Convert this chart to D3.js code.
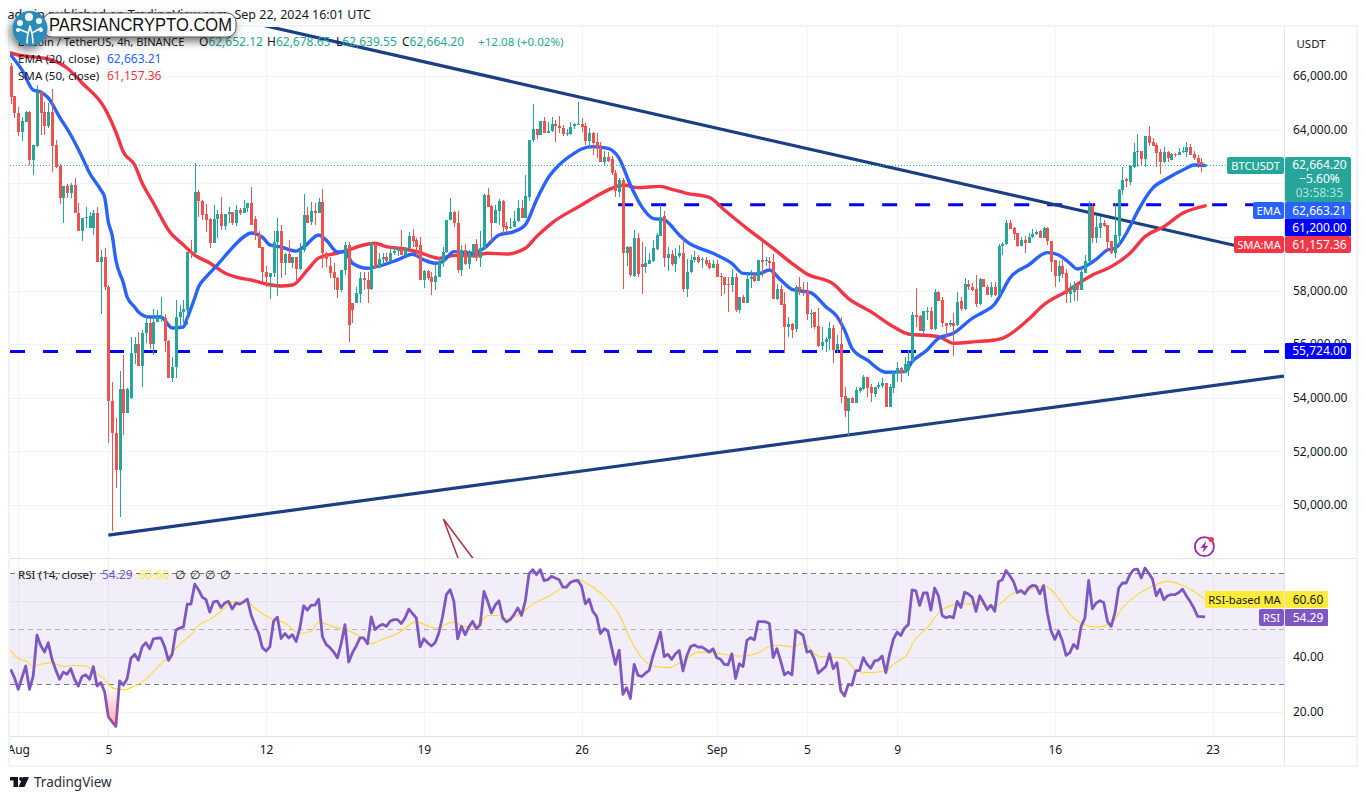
<!DOCTYPE html>
<html>
<head>
<meta charset="utf-8">
<title>BTCUSDT</title>
<script src="https://cdn.jsdelivr.net/npm/d3@7"></script>
<style>
html,body{margin:0;padding:0;background:#fff;}
svg{display:block;}
text{font-family:"Noto Sans","Open Sans",sans-serif;font-size:12px;fill:#131722;}
</style>
</head>
<body>
<div id="chart"></div>
<script>
// ---- candle data: first entry is bar index -2 (bars are 4h, index 0 = Aug 1 00:00)
const firstBar = -2;
const opens = [66373,65255,64633,63925,64297,64670,62868,63390,65391,64645,
64150,64670,63427,62644,61463,61898,61650,61923,60879,60233,
60730,60320,60345,60879,59077,59238,58144,53893,52675,51308,
54316,53446,53980,55658,56007,55198,56405,56777,56007,56840,
56964,56964,56100,54726,55136,57026,57187,57275,59425,59388,
61662,61351,60854,60655,59785,60655,60854,60419,60854,60916,
60506,61003,60904,61066,61252,60668,60108,59611,58704,58493,
58642,59823,60220,59040,59363,59015,59263,58803,59512,60817,
60544,60966,60904,61289,59412,58915,58704,58456,58020,58766,
59698,57520,57523,57870,58455,58393,58057,59698,58828,59164,
59263,59114,59412,59487,59536,59325,59574,60034,59885,59698,
58393,58728,58493,58331,58517,59077,59425,60630,60941,60506,
58766,59512,58990,59387,59735,59201,59574,61562,61165,60506,
60978,61339,60407,60320,60357,60593,61090,60717,61500,63613,
64024,63800,64322,63887,63961,64210,64148,64049,63850,63837,
64148,64198,64210,64136,63589,63862,63551,63365,62806,62967,
62893,62395,61687,62122,59387,59636,58555,59947,58990,58890,
58990,59114,59536,60034,60779,59225,59362,58990,59287,59387,
58057,58678,59138,59250,59138,59138,59014,58827,58989,58541,
58491,58243,58205,58491,57273,57770,57547,58417,58541,58367,
59138,59100,59100,59063,57683,58044,57497,56652,56751,56553,
58119,58019,57982,57149,57186,56677,55943,56068,56192,56590,
55781,56005,54066,53507,54004,53818,54265,54315,54787,54414,
54141,54414,54439,54563,53668,54352,54911,55098,54936,55036,
55384,57087,57050,56503,57236,57248,56565,57957,57646,56801,
56702,56776,56714,57621,57298,58243,58144,58044,57497,58417,
58144,57832,58119,57832,59660,59723,60506,60344,60133,59660,
59884,59785,59984,60108,60220,59947,60319,59860,59138,58554,
58915,58641,57870,57958,58206,58020,58666,59101,61152,59946,
60320,60531,60444,59847,59387,60034,61749,62159,62060,62594,
63153,63215,62905,63762,63526,63414,63153,62805,63178,62868,
63091,63054,63153,63178,63340,63079,62955,62780,62652.12];
const highs = [66500,65255,64857,64484,64708,64700,63427,65665,65478,65043,
64981,65503,63614,62700,61898,61973,61998,62184,61277,60693,
61103,60941,61003,61128,59512,59574,58200,54602,53235,55012,
55597,54353,56280,56280,56466,56528,57088,56964,57300,57275,
57747,57125,56150,55535,57648,57461,57648,59450,59885,62744,
61749,61376,61227,60700,61190,61003,61476,60854,61128,60941,
61190,61066,61377,61252,61849,60792,60233,59611,58915,58642,
60233,60692,60444,59388,59885,59263,59263,59785,61600,61128,
61314,61252,61438,61774,59450,59263,59015,58517,58766,59822,
59822,57520,58144,58704,58704,58704,59822,59822,59387,59387,
59387,59636,59636,59636,60257,59574,60195,60283,59947,60009,
58766,58766,58704,58952,59200,59636,60630,61438,60966,60978,
59698,59735,59512,59735,59910,60232,61600,61811,61190,61190,
61401,61376,60568,60692,60978,61376,61376,62308,63613,64956,
64024,64322,64484,64297,64459,64359,64508,64173,64011,64297,
64260,65043,64422,64235,64049,63924,63862,63551,63216,63179,
63017,62495,62184,62184,59660,59660,60257,60158,59822,59611,
59387,59884,60133,61190,60978,59636,59512,59573,59700,59947,
59163,59324,59486,59324,59262,59237,59138,59138,59138,58640,
58491,58491,58790,58640,57770,57832,58640,58765,58702,59138,
59797,59237,59262,59362,58243,58205,57957,57025,56776,58205,
58516,58330,58330,57298,57211,57335,56652,56279,56838,56714,
56341,57000,54414,54004,54041,54414,54414,54849,54787,54514,
54414,54601,54725,54563,54514,54974,55347,55136,55508,55781,
57211,58082,57087,57236,57373,57397,58044,57982,57746,56801,
56900,57149,57957,57770,58454,58392,58268,58578,58454,58417,
58200,58330,58330,59735,59823,60630,60630,60382,60158,60009,
60034,60158,60282,60257,60257,60357,60382,59860,59138,59114,
59138,58790,58268,58368,58330,58890,59325,61351,61251,60780,
60780,60630,60444,59847,61251,61774,62594,62184,62681,63489,
63837,63215,63762,64135,63675,63489,63265,63340,63215,63141,
63141,63302,63365,63551,63452,63216,63054,62930,62678.65];
const lows = [64955,64420,63763,63589,64297,62681,62309,63365,63800,63800,
64050,62433,62557,61227,60531,61438,61438,60879,60233,59847,
60320,60320,60071,59077,57125,58020,52328,49045,50650,49568,
52613,53421,53943,55260,55198,54415,56030,55808,55597,56840,
56840,55720,54726,54602,54726,56653,56777,56715,59200,59388,
60755,60630,60196,59574,59760,59947,60258,60258,60531,60444,
60419,60817,60879,60916,60444,59885,59574,58331,58144,57672,
58517,57797,58456,58580,59015,58828,58393,58766,59450,60506,
60444,60444,60879,58828,58865,58456,58020,57709,57958,58580,
56078,56800,57523,57523,58020,57523,58020,58828,58828,58952,
59077,59077,59325,59300,59325,59263,59536,59636,59263,58393,
58082,58393,57833,58020,58517,58890,59387,60630,60382,58666,
58542,58952,58803,59201,59114,58865,59512,61127,59760,60506,
60444,60133,60133,60295,60357,60568,60717,60717,61351,63551,
63638,63800,63887,63887,63924,63551,63862,63763,63763,63800,
64011,64173,63924,63427,63266,63054,62930,62806,62644,62806,
62308,61500,61500,58045,58915,58517,58517,58493,57871,58667,
58990,59077,59511,60034,58890,58741,58915,58703,59200,57958,
57746,58640,59075,59038,58852,58914,58790,58827,58516,57795,
57870,57211,57957,57211,57149,57522,57547,58080,58330,58367,
58516,58914,58790,57683,57646,57460,55657,56254,56217,56465,
57833,57795,56900,56589,56552,55881,55782,55695,55782,55309,
55657,53793,53271,52575,53818,53818,54191,54290,54041,53855,
54017,54315,54352,53668,53668,54191,54601,54601,54936,54825,
55309,56652,56503,56378,56900,56527,56527,57621,56652,56217,
56652,55558,56677,57248,57273,58019,57994,57373,57460,58119,
57832,57770,57795,57832,59325,59698,60282,59884,59636,59660,
59387,59760,59947,60071,59947,59947,59698,58703,58144,58330,
58455,57547,57523,57622,57622,58020,58641,59014,59760,59760,
59946,60357,59449,59362,59201,59698,61562,61848,61935,62557,
62619,62644,62619,63390,63390,62594,62345,62768,62805,62868,
62992,63054,63116,62992,63054,62868,62557,62432,62639.55];
const closes = [65217,64608,63925,64322,64670,62868,63427,65391,64608,64150,
64670,63402,62619,61463,61898,61650,61936,60879,60233,60693,
60740,60780,60904,59077,59238,58144,53893,52675,51308,54316,
53421,54316,55658,56007,55198,56405,56777,56007,56840,57026,
56990,56100,54726,55136,57026,57187,57312,59425,59388,61662,
61351,60817,60630,59785,60655,60854,60419,60854,60916,60506,
61003,60904,61066,61252,60444,60108,59574,58704,58493,58642,
59823,60220,59040,59363,59015,59263,58803,59512,60817,60506,
60966,60904,61289,59412,59163,58667,58456,58020,58766,59698,
56700,57270,57895,58455,58393,58057,59760,58828,59164,59263,
59114,59412,59487,59536,59325,59574,60034,59860,59636,58393,
58728,58455,58331,58542,59077,59425,60630,60941,60506,58766,
59512,58990,59387,59735,59201,59574,61562,61127,60506,61003,
61339,60382,60295,60357,60593,61090,60717,61525,63613,64024,
63800,64322,63887,63961,64210,64148,64049,63825,63875,64111,
64198,64223,64111,63589,63862,63514,63340,62806,62967,62843,
62371,61712,62122,59387,59636,58580,59947,58604,58890,59015,
59139,59574,60071,60754,59225,59362,58990,59287,59411,58057,
58678,59138,59250,59075,59163,58989,58827,58989,58516,58491,
58205,58218,58491,57273,57770,57547,58429,58516,58367,59138,
59075,59138,59038,57683,58044,57460,56652,56751,56528,58119,
58019,57982,57124,57174,56652,55943,56068,56192,56590,55781,
56005,54041,53507,54004,53818,54290,54352,54787,54352,54166,
54414,54476,54563,53668,54390,54974,55098,54936,55260,55384,
57087,57025,56503,57236,57248,56553,57957,57621,56776,56677,
56801,56689,57584,57298,58243,58119,58019,57497,58417,58119,
57832,58119,57832,59660,59735,60506,60294,60108,59660,59884,
59760,60009,60108,60195,59947,60319,59847,59076,58554,58915,
58616,57858,57970,58206,58020,58678,59101,61152,59946,60357,
60531,60406,59797,59387,60071,61749,62122,62097,62644,63153,
63215,62905,63762,63489,63390,63116,62805,63178,62930,63091,
63054,63153,63203,63340,63054,62955,62743,62664,62664.20];

// ---- EMA(20)
const emaBars = [-2,1,4,6,8,11,14,17,19,22,23,24,25,26,28,29,31,32,35,38,41,44,45,47,48,50,53,56,60,62,65,67,70,74,76,80,82,85,87,89,93,97,101,105,108,111,113,116,121,124,128,132,135,138,141,144,148,150,153,157,160,163,166,169,172,176,178,185,190,193,197,200,203,206,211,215,218,220,222,226,231,236,238,242,245,249,254,257,260,261,264,269,274,277,280,282,284,287,290,292,296,298,302,306,311,313,316];
const emaVals = [66783,66224,65478,65403,65180,64470,63800,62980,62380,61750,61487,60550,60070,59136,58280,57757,57384,57200,57010,57010,56600,56640,56970,57720,58130,58500,58950,59435,59995,60145,59995,59700,59622,59470,59622,60070,59880,59435,59450,59015,58828,58950,59140,59350,59140,59015,59077,59450,59387,59574,60070,60195,60444,61376,62184,62680,63116,63278,63365,63300,62930,61935,61128,60692,60630,60070,59820,59386,59013,58640,58616,58765,58392,58044,57920,57397,57025,56527,55844,55409,54949,54973,55347,55781,56217,56403,56962,57200,57498,57709,58455,58952,59412,59325,59014,58803,58890,59163,59511,59573,60382,60941,61811,62184,62557,62681,62663.21];

// ---- SMA(50)
const smaBars = [-2,0,8,13,17,23,26,28,31,33,36,38,40,44,47,51,55,59,62,66,70,73,77,80,85,88,91,95,98,103,107,110,112,116,121,125,130,135,138,142,150,154,158,161,165,171,174,178,184,188,194,201,206,210,217,221,227,233,237,245,249,255,260,262,269,273,279,286,291,296,300,305,310,316];
const smaVals = [66858,66783,66634,66298,65739,64806,63911,63165,62680,62009,61263,60741,60256,59696,59323,59025,58652,58466,58391,58242,58167,58205,58764,59212,59398,59512,59660,59760,59636,59549,59412,59263,59200,59300,59300,59387,59362,59574,60009,60506,61190,61525,61811,61935,61836,61885,61773,61624,61475,61002,60319,59573,59013,58616,58243,57708,57211,56652,56378,56279,56030,56092,56154,56216,56926,57460,57958,58579,58890,59387,60009,60381,60879,61157.36];

// ---- RSI(14), one value per bar, first entry is bar index -2
const rsiVals = [35.4,32.4,28.2,32.4,36.6,28.2,33,47.7,44,41.6,
45,39,35.2,31.8,34.4,33.6,35.6,31.8,29.4,32.8,
33.4,31.8,36.4,29.4,30.6,27.3,18.3,16.5,14.8,31.2,
29.7,32,39.3,40.8,38.7,43.5,45,42.8,46.4,46.6,
46.7,43.5,38.6,40.8,49.5,50.3,50.7,58.9,58.9,66.1,
64.1,61.4,60.5,56,59.7,60,57.7,59.3,59.9,57.1,
59.3,58.9,59.7,60.7,55.1,51.5,48.5,43.2,42,43.5,
52.7,54.2,46.5,48.3,46.7,47.9,45.4,50.3,58.3,56.7,
58.5,58.5,60.7,47.1,44.4,43.2,41.6,39.5,44.7,51.5,
38,41.4,43.8,46.7,46.7,44.6,54.3,49.7,50.9,51.6,
50.9,52.7,53.3,53.3,51.9,53.9,57.1,55.5,53.9,43.5,
46.4,45,43.8,45,48.5,54.5,62.3,64.1,59.9,46.4,
50.9,47.9,50.7,52.7,50,51.5,63.5,59.9,55.7,58.5,
60.1,53.9,52.5,53.3,55.1,57.5,54.8,59.9,69.8,71.3,
69.5,71.3,67.4,67.7,68.9,68.3,67.7,65,65,66.7,
67.3,67.4,65.3,59,60.7,56.3,54.5,48.3,50,49.2,
43.2,37.2,42.3,26.4,28.8,24.9,37.2,33.3,32.8,34,
35,40.2,44.4,48.8,40,40.8,39,41,42.2,34.8,
40.2,43.5,44.2,43.4,43.5,42.6,41.6,42.8,39.6,39,
37.2,37,41,32.1,37.4,36.4,45.8,46.8,46,52.6,
52.6,52.5,51.9,39.6,42.8,38.4,33.4,34.4,33.4,49.2,
48.6,47.6,41.6,42,39,34,35.2,36.4,41,35.6,
37.8,27.6,25.8,30,29.7,34.8,35,39.6,37.2,35.8,
38.4,38.7,40.2,34.2,40.8,46.2,48.8,47.6,50.3,51.5,
64,63.7,58.4,62.9,62.9,56.7,64.7,61.9,54.8,54,
54.5,54,59.9,57.7,63.2,62.5,61.4,56.3,61.9,59.5,
56.9,58.5,56.3,67,67.7,71,69.1,67,63.1,63.8,
62.6,64.7,65.6,65.5,62.6,65.6,55.7,49.2,46.2,49.2,
45.6,40.4,41.4,44.4,42.9,50.9,53.9,67.4,57.2,59.3,
60.1,59.5,52.7,50.9,55.7,64.7,66.5,66.5,69.5,71.3,
71.5,68.3,71.9,70,67.9,61.9,64.3,60.5,61.9,62.3,
62.3,63.1,64.3,61.9,59.9,57.5,54.5,54.4,54.29];

// ---- RSI-based MA
const rsiMaBars = [-2,0,2,4,6,9,12,15,18,20,23,25,28,31,34,37,40,43,46,48,51,55,57,61,63,67,71,75,78,80,84,87,91,94,97,101,106,111,116,119,123,125,128,130,134,137,142,145,149,151,155,160,163,166,169,173,177,181,185,190,193,196,200,203,206,209,213,220,223,226,231,233,237,238,242,246,251,256,260,265,268,273,277,280,284,287,291,294,298,301,306,310,313,316];
const rsiMaVals = [42.2,39.2,38.4,36.6,37.2,37.8,36.4,36.8,36.6,34.8,31.8,28.8,28,29.4,31.8,36,39.9,44.4,47.9,51.2,53.3,57.5,59.7,59.7,57.5,53.9,52.1,48.3,49.1,52.4,50.7,49.7,47.3,44.7,46.2,48.3,52.5,50.3,52.4,50.7,52.1,54.8,54.8,53.7,55.7,58.9,62.3,64.9,67.9,66.7,62.9,55.1,46.2,39.6,36.6,36,38.4,41.6,41.4,40.4,40.2,40.8,43.5,44,43.5,44.6,40.2,39.3,35,34.2,34.8,37.2,41.4,44.4,50.3,56.9,59,58.9,58.1,62.9,63.5,65.5,61,55.1,51.5,50.6,52.1,57.5,62.3,64.7,67.1,65.6,63.5,60.6];

// ---- drawn levels and trend lines
const levelPrices = [61200, 55724];
const levelStartBars = [160, -2];
const upperTrendBars = [46, 324];
const upperTrendPrices = [68500, 59678];
const lowerTrendBars = [24, 337];
const lowerTrendPrices = [48879, 54810];
const arrowBars = [117.2, 113.2, 121.2];
const arrowPrices = [47984, 49476, 47984];

// ---- axes
const priceTicks = [66000,64000,62000,60000,58000,56000,54000,52000,50000];
const priceTickLabels = [66000,64000,58000,56000,54000,52000,50000];
const rsiTicks = [60,40,20];
const rsiTickLabels = [40,20];
const rsiLevels = [70,50,30];
const timeBars = [0,24,66,108,150,186,210,234,276,318];
const timeLabels = ["Aug","5","12","19","26","Sep","5","9","16","23"];

const W=1366,H=800;
const paneL=10,paneR=1284,mainT=27,mainB=559,rsiB=737,timeB=765,outerR=1356;

const x=d3.scaleLinear().domain([0,318]).range([18.2,1212.6]);
const y=d3.scaleLinear().domain([66000,50000]).range([76,505]);
const yR=d3.scaleLinear().domain([70,30]).range([573.3,684.3]);

const svg=d3.select("#chart").append("svg").attr("width",W).attr("height",H);
const defs=svg.append("defs");
defs.append("clipPath").attr("id","cMain").append("rect").attr("x",paneL).attr("y",mainT).attr("width",paneR-paneL).attr("height",mainB-mainT);
defs.append("clipPath").attr("id","cRsi").append("rect").attr("x",paneL).attr("y",mainB).attr("width",paneR-paneL).attr("height",rsiB-mainB);
defs.append("clipPath").attr("id","cBelow").append("rect").attr("x",paneL).attr("y",yR(30)).attr("width",paneR-paneL).attr("height",rsiB-yR(30));
defs.append("clipPath").attr("id","cTime").append("rect").attr("x",paneL).attr("y",rsiB).attr("width",outerR-paneL).attr("height",timeB-rsiB);
const grad=defs.append("linearGradient").attr("id","gOS").attr("gradientUnits","userSpaceOnUse").attr("x1",0).attr("x2",0).attr("y1",yR(30)).attr("y2",yR(14));
grad.append("stop").attr("offset",0).attr("stop-color","#f23645").attr("stop-opacity",0);
grad.append("stop").attr("offset",1).attr("stop-color","#f23645").attr("stop-opacity",0.45);
const sh=defs.append("filter").attr("id","shadow").attr("x","-20%").attr("y","-60%").attr("width","140%").attr("height","240%");
sh.append("feDropShadow").attr("dx",-2).attr("dy",4).attr("stdDeviation",4).attr("flood-color","#000").attr("flood-opacity",0.55);

const gridC="#f0f3fa",frameC="#e0e3eb";
const bars=d3.range(opens.length).map(i=>({b:firstBar+i,o:opens[i],h:highs[i],l:lows[i],c:closes[i]}));

// grids
const grid=svg.append("g");
grid.selectAll(".gh").data(priceTicks).join("line")
  .attr("x1",paneL).attr("x2",paneR).attr("y1",d=>Math.round(y(d))+.5).attr("y2",d=>Math.round(y(d))+.5).attr("stroke",gridC);
grid.selectAll(".gv").data(timeBars).join("line").attr("class","gv")
  .attr("x1",d=>Math.round(x(d))+.5).attr("x2",d=>Math.round(x(d))+.5).attr("y1",mainT).attr("y2",rsiB).attr("stroke",gridC);

// main pane
const main=svg.append("g").attr("clip-path","url(#cMain)");
main.selectAll(".lvl").data(levelPrices).join("line").attr("class","lvl")
  .attr("x1",(d,i)=>Math.max(paneL,i===1?paneL:x(levelStartBars[i])-1)).attr("x2",paneR)
  .attr("y1",d=>y(d)).attr("y2",d=>y(d))
  .attr("stroke","#0000ff").attr("stroke-width",3).attr("stroke-dasharray","15 18");
const lp=d3.line().x(d=>x(d[0])).y(d=>y(d[1]));
const ls=d3.line().x(d=>x(d[0])).y(d=>y(d[1])).curve(d3.curveMonotoneX);
main.append("path").attr("d",lp(d3.zip(upperTrendBars,upperTrendPrices))).attr("fill","none").attr("stroke","#1b3f83").attr("stroke-width",3.2);
main.append("path").attr("d",lp(d3.zip(lowerTrendBars,lowerTrendPrices))).attr("fill","none").attr("stroke","#1b3f83").attr("stroke-width",3.2);
main.append("path").attr("d",lp(d3.zip(arrowBars,arrowPrices))).attr("fill","none").attr("stroke","#b03045").attr("stroke-width",1.5);
main.append("path").attr("d",ls(d3.zip(smaBars,smaVals))).attr("fill","none").attr("stroke","#f23645").attr("stroke-width",3.4).attr("stroke-linejoin","round").attr("stroke-linecap","round");
main.append("path").attr("d",ls(d3.zip(emaBars,emaVals))).attr("fill","none").attr("stroke","#2962ff").attr("stroke-width",3.4).attr("stroke-linejoin","round").attr("stroke-linecap","round");

const up="#26a69a",dn="#ef5350";
const col=d=>d.c>=d.o?up:dn;
const cg=main.append("g").attr("shape-rendering","crispEdges");
cg.selectAll(".w").data(bars).join("rect").attr("class","w")
  .attr("x",d=>Math.round(x(d.b))).attr("width",1)
  .attr("y",d=>y(d.h)).attr("height",d=>Math.max(1,y(d.l)-y(d.h))).attr("fill",col);
cg.selectAll(".b").data(bars).join("rect").attr("class","b")
  .attr("x",d=>Math.round(x(d.b))-1).attr("width",3)
  .attr("y",d=>y(Math.max(d.o,d.c))).attr("height",d=>Math.max(1,Math.abs(y(d.o)-y(d.c)))).attr("fill",col);

// current price line
const lastClose=closes[closes.length-1];
svg.append("line").attr("x1",paneL).attr("x2",1227).attr("y1",y(lastClose)).attr("y2",y(lastClose))
  .attr("stroke",up).attr("stroke-width",1).attr("stroke-dasharray","1 2");

// RSI pane
const rsiG=svg.append("g").attr("clip-path","url(#cRsi)");
rsiG.append("rect").attr("x",paneL).attr("width",paneR-paneL).attr("y",yR(70)).attr("height",yR(30)-yR(70)).attr("fill","#7e57c2").attr("fill-opacity",0.1);
rsiG.selectAll(".rg").data(rsiTicks).join("line").attr("class","rg").attr("x1",paneL).attr("x2",paneR).attr("y1",d=>Math.round(yR(d))+.5).attr("y2",d=>Math.round(yR(d))+.5).attr("stroke",d=>d===20?gridC:"#e4e2ee");
rsiG.selectAll(".rl").data(rsiLevels).join("line").attr("class","rl").attr("x1",paneL).attr("x2",paneR).attr("y1",d=>Math.round(yR(d))+.5).attr("y2",d=>Math.round(yR(d))+.5)
  .attr("stroke","#787b86").attr("stroke-opacity",d=>d===50?0.55:1).attr("stroke-dasharray","5 4");
const rsiPts=rsiVals.map((v,i)=>[firstBar+i,v]);
const lr=d3.line().x(d=>x(d[0])).y(d=>yR(d[1]));
svg.append("path").attr("clip-path","url(#cBelow)")
  .attr("d",d3.area().x(d=>x(d[0])).y0(yR(30)).y1(d=>yR(d[1]))(rsiPts)).attr("fill","url(#gOS)");
rsiG.append("path").attr("d",lr.curve(d3.curveMonotoneX)(d3.zip(rsiMaBars,rsiMaVals))).attr("fill","none").attr("stroke","#fdd835").attr("stroke-width",1.1);
rsiG.append("path").attr("d",lr.curve(d3.curveLinear)(rsiPts)).attr("fill","none").attr("stroke","#7e57c2").attr("stroke-width",2.8).attr("stroke-linejoin","round");

// frame lines
const frame=svg.append("g").attr("fill",frameC);
frame.append("rect").attr("x",paneL-2).attr("y",mainT-2).attr("width",outerR-paneL+4).attr("height",2).attr("fill","#f0f3fa");
frame.append("rect").attr("x",paneL-2).attr("y",mainT-2).attr("width",2).attr("height",timeB-mainT+4).attr("fill","#f0f3fa");
frame.append("rect").attr("x",outerR).attr("y",mainT-2).attr("width",2).attr("height",timeB-mainT+4).attr("fill","#f0f3fa");
frame.append("rect").attr("x",paneL-2).attr("y",timeB).attr("width",outerR-paneL+4).attr("height",2).attr("fill","#f0f3fa");
frame.append("rect").attr("x",paneL).attr("y",mainB-1).attr("width",outerR-paneL).attr("height",1);
frame.append("rect").attr("x",paneL).attr("y",rsiB-1).attr("width",outerR-paneL).attr("height",1);
frame.append("rect").attr("x",paneR).attr("y",mainT).attr("width",1).attr("height",timeB-mainT);

// axes
const styleAxis=g=>{g.select(".domain").remove();g.selectAll("text").style("font-size","12px").style("fill","#131722");};
svg.append("g").attr("transform","translate(1293,0)")
  .call(d3.axisRight(y).tickValues(priceTickLabels).tickSize(0).tickPadding(0).tickFormat(d3.format(",.2f"))).call(styleAxis);
svg.append("g").attr("transform","translate(1293,0)")
  .call(d3.axisRight(yR).tickValues(rsiTickLabels).tickSize(0).tickPadding(0).tickFormat(d3.format(".2f"))).call(styleAxis);
svg.append("g").attr("clip-path","url(#cTime)").append("g").attr("transform",`translate(0,${rsiB})`)
  .call(d3.axisBottom(x).tickValues(timeBars).tickSize(0).tickPadding(8).tickFormat((d,i)=>timeLabels[i])).call(styleAxis);
svg.append("text").attr("x",1311).attr("y",48).attr("text-anchor","middle").style("font-size","11.5px").text("USDT");

// axis tags
function tag(xL,xR,yT,yB,fill,label,tc,r,fs,cx){
  svg.append("rect").attr("x",xL).attr("y",yT).attr("width",xR-xL).attr("height",yB-yT).attr("fill",fill).attr("rx",r||0);
  if(label) svg.append("text").attr("x",cx||(xL+xR)/2).attr("y",(yT+yB)/2+4.2).attr("text-anchor","middle").style("fill",tc||"#fff").style("font-size",(fs||12)+"px").text(label);
}
tag(1227,1284,157,174,up,"BTCUSDT","#fff",2,11.2);
tag(1285,1351,157,202,up,null,null,2);
svg.append("text").attr("x",1319.5).attr("y",169).attr("text-anchor","middle").style("fill","#fff").text("62,664.20");
svg.append("text").attr("x",1319.5).attr("y",183).attr("text-anchor","middle").style("fill","#fff").text("−5.60%");
svg.append("text").attr("x",1319.5).attr("y",197).attr("text-anchor","middle").style("fill","#fff").style("opacity",.65).text("03:58:35");
tag(1253,1284,202,219,"#2962ff","EMA","#fff",2,11.5);
tag(1285,1351,202,219,"#2962ff","62,663.21","#fff",1,12,1319.5);
tag(1285,1351,219,236,"#0000ff","61,200.00","#fff",0,12,1319.5);
tag(1234,1284,236,253,"#f23645","SMA:MA","#fff",2,11.2);
tag(1285,1351,236,253,"#f23645","61,157.36","#fff",2,12,1319.5);
tag(1285,1351,343,359,"#0000ff","55,724.00","#fff",1,12,1319.5);
tag(1205,1284,591,608,"#ffeb3b","RSI-based MA","#131722",1,11.2);
tag(1285,1328,591,608,"#ffeb3b","60.60","#131722",1,12,1308);
tag(1259,1284,609,626,"#7e57c2","RSI","#fff",2,11.5);
tag(1285,1328,609,626,"#7e57c2","54.29","#fff",1,12,1308);

// legends
const txt=(s,px,py,c,fs)=>svg.append("text").attr("x",px).attr("y",py).style("fill",c||"#131722").style("font-size",(fs||12)+"px").text(s);
svg.append("text").attr("x",371).attr("y",19).attr("text-anchor","end").style("font-size","12.5px").text("admin published on TradingView.com, Sep 22, 2024 16:01 UTC");
txt("Bitcoin / TetherUS, 4h, BINANCE",18,46,null,11.1);
[["O",199,"62,652.12"],["H",267,"62,678.65"],["L",336,"62,639.55"],["C",402,"62,664.20"]].forEach(([k,px,v])=>{
  const t=svg.append("text").attr("x",px).attr("y",46);
  t.append("tspan").text(k); t.append("tspan").style("fill",up).text(v);
});
txt("+12.08 (+0.02%)",478,46,up,11.6);
txt("EMA (20, close)",18,63,null,11.6); txt("62,663.21",107,63,"#2962ff");
txt("SMA (50, close)",18,80,null,11.6); txt("61,157.36",107,80,"#f23645");
txt("RSI (14, close)",18,579,null,11.6); txt("54.29",102,579,"#7e57c2"); txt("60.60",139,579,"#ffeb3b");
[175,190,205,220].forEach(px=>txt("∅",px,579));

// lightning badge
const ic=svg.append("g").attr("transform","translate(1204.4,546.7)");
ic.append("circle").attr("r",9.5).attr("fill","#fff").attr("stroke","#9c27b0").attr("stroke-width",1.8);
ic.append("path").attr("d","M2,-6 L-4,1 L-0.5,1 L-2,6 L4,-1 L0.5,-1 Z").attr("fill","#9c27b0");
svg.append("circle").attr("cx",1211.3).attr("cy",539.5).attr("r",2.6).attr("fill","#f23645");

// TradingView mark
const tv=svg.append("g").attr("fill","#131722");
tv.append("rect").attr("x",10).attr("y",777).attr("width",8).attr("height",3.5);
tv.append("rect").attr("x",13.5).attr("y",777).attr("width",4.5).attr("height",10);
tv.append("circle").attr("cx",21).attr("cy",779).attr("r",1.9);
tv.append("path").attr("d","M23,777 H29 L24.5,787 H18.5 Z");
svg.append("text").attr("x",34).attr("y",787).style("font-size","13.5px").style("fill","#2a2e39").text("TradingView");

// site badge
const bd=svg.append("g");
bd.append("rect").attr("x",43).attr("y",13).attr("width",193).attr("height",24).attr("rx",9).attr("fill","#fff").attr("stroke","#555").attr("stroke-width",1).attr("filter","url(#shadow)");
bd.append("text").attr("x",49).attr("y",31).attr("textLength",183).attr("lengthAdjust","spacingAndGlyphs")
  .style("font-family","'Liberation Sans',Arial,sans-serif").style("font-size","18px").style("fill","#111").style("font-weight",400).text("PARSIANCRYPTO.COM");
bd.append("circle").attr("cx",30).attr("cy",28.5).attr("r",17.5).attr("fill","#2a8db9").attr("filter","url(#shadow)");
const tree=bd.append("g").attr("stroke","#fff").attr("fill","none").attr("stroke-width",1.6).attr("stroke-linecap","round");
tree.append("path").attr("d","M27,43 C27,36 28,32 30,26 M33,43 C33,36 32,32 30,26 M28,33 C25,31 22,31 19,29 M32,33 C35,31 38,30 41,28");
const leaves=[[29,17,4],[20,23,3],[39,21,3],[18,30,2],[41,30,2]];
leaves.forEach(l=>bd.append("circle").attr("cx",l[0]).attr("cy",l[1]).attr("r",l[2]).attr("fill","#fff"));
</script>
</body>
</html>
